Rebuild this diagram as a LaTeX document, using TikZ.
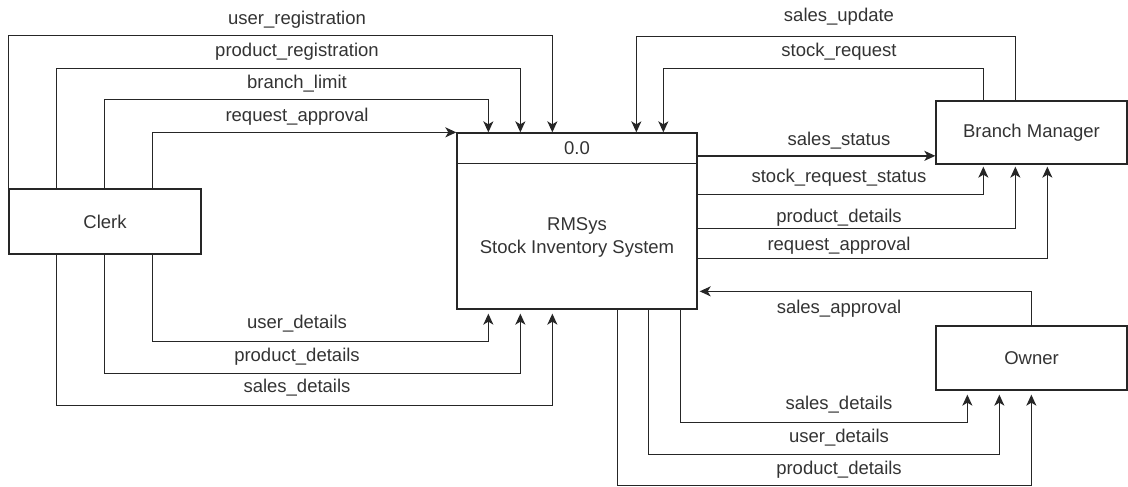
\documentclass[tikz,border=0pt]{standalone}
\usepackage{fontspec}
\setmainfont{Liberation Sans}
\usetikzlibrary{arrows.meta,calc}
\newcommand\lblfont{\fontsize{18.5}{23}\selectfont}
\begin{document}
\begin{tikzpicture}[x=1pt,y=-1pt,
  box/.style={draw=black!85, line width=1.3pt, inner sep=0pt, font=\lblfont, text=black!80},
  flow/.style={draw=black!85, line width=1.5pt, -{Stealth[length=11pt,width=10pt,inset=3pt]}},
  flowgap/.style={flow, shorten >=4pt},
  lbl/.style={font=\lblfont, text=black!80, inner sep=0pt}]
\useasboundingbox (0,0) rectangle (1128,487);

% boxes
\node[box, minimum width=192pt, minimum height=65pt] (clerk) at (105,221.5) {Clerk};
\node[box, minimum width=240pt, minimum height=176pt] (sys) at (577,221) {};
\node[box, minimum width=191pt, minimum height=63pt] (bm) at (1031.5,132.5) {Branch Manager};
\node[box, minimum width=191pt, minimum height=64pt] (owner) at (1031.5,358) {Owner};
\draw[line width=1.3pt, black!85] ($(sys.north west)+(0,31)$) -- ($(sys.north east)+(0,31)$);
\node[lbl] (sysid) at (577,148) {0.0};
\node[lbl, align=center] (sysname) at (577,237) {RMSys\\Stock Inventory System};

% Clerk -> system (top)
\draw[flow] (clerk.north west) |- ($(sys.north west)+(96,-97)$) -- ($(sys.north west)+(96,0)$);
\draw[flow] ($(clerk.north west)+(48,0)$) |- ($(sys.north west)+(64,-64)$) -- ($(sys.north west)+(64,0)$);
\draw[flow] ($(clerk.north west)+(96,0)$) |- ($(sys.north west)+(32,-33)$) -- ($(sys.north west)+(32,0)$);
\draw[flow] ($(clerk.north west)+(144,0)$) |- (sys.north west);
\node[lbl] (l1) at (297,20) {user\_registration};
\node[lbl] (l2) at (297,52) {product\_registration};
\node[lbl] (l3) at (297,84) {branch\_limit};
\node[lbl] (l4) at (297,117) {request\_approval};

% Clerk -> system (bottom)
\draw[flowgap] ($(clerk.south west)+(144,0)$) |- ($(sys.south west)+(32,32)$) -- ($(sys.south west)+(32,0)$);
\draw[flowgap] ($(clerk.south west)+(96,0)$) |- ($(sys.south west)+(64,64)$) -- ($(sys.south west)+(64,0)$);
\draw[flowgap] ($(clerk.south west)+(48,0)$) |- ($(sys.south west)+(96,96)$) -- ($(sys.south west)+(96,0)$);
\node[lbl] (l5) at (297,324) {user\_details};
\node[lbl] (l6) at (297,357) {product\_details};
\node[lbl] (l7) at (297,388) {sales\_details};

% Branch manager -> system
\draw[flow] ($(bm.north west)+(80,0)$) |- ($(sys.north west)+(180,-96)$) -- ($(sys.north west)+(180,0)$);
\draw[flow] ($(bm.north west)+(48,0)$) |- ($(sys.north west)+(207,-64)$) -- ($(sys.north west)+(207,0)$);
\node[lbl] (r1) at (839,17) {sales\_update};
\node[lbl] (r2) at (839,52) {stock\_request};

% system -> Branch manager
\draw[flow] ($(sys.north east)+(0,23.5)$) -- ($(bm.north west)+(0,55.5)$);
\draw[flow, shorten >=2pt] ($(sys.north east)+(0,62)$) -| ($(bm.south west)+(48,0)$);
\draw[flow, shorten >=2pt] ($(sys.north east)+(0,96)$) -| ($(bm.south west)+(80,0)$);
\draw[flow, shorten >=2pt] ($(sys.north east)+(0,126)$) -| ($(bm.south west)+(112,0)$);
\node[lbl] (r3) at (839,141) {sales\_status};
\node[lbl] (r4) at (839,178) {stock\_request\_status};
\node[lbl] (r5) at (839,218) {product\_details};
\node[lbl] (r6) at (839,246) {request\_approval};

% Owner -> system
\draw[flow, shorten >=2pt] ($(owner.north west)+(96,0)$) |- ($(sys.north east)+(0,159)$);
\node[lbl] (r7) at (839,309) {sales\_approval};

% system -> Owner
\draw[flowgap] ($(sys.south east)+(-17,0)$) |- ($(owner.south west)+(32,32)$) -- ($(owner.south west)+(32,0)$);
\draw[flowgap] ($(sys.south east)+(-49,0)$) |- ($(owner.south west)+(64,64)$) -- ($(owner.south west)+(64,0)$);
\draw[flowgap] ($(sys.south east)+(-80,0)$) |- ($(owner.south west)+(96,95)$) -- ($(owner.south west)+(96,0)$);
\node[lbl] (r8) at (839,405) {sales\_details};
\node[lbl] (r9) at (839,438) {user\_details};
\node[lbl] (r10) at (839,470) {product\_details};
\end{tikzpicture}
\end{document}
